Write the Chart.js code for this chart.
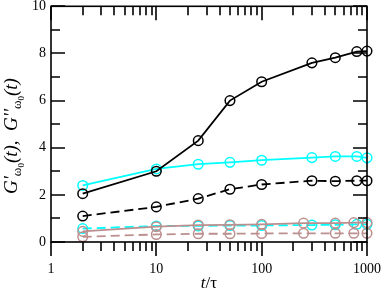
<!DOCTYPE html>
<html>
<head>
<meta charset="utf-8">
<script src="https://cdn.jsdelivr.net/npm/chart.js@4"></script>
<style>
  html, body { margin: 0; padding: 0; background: #fff; }
  #wrap { width: 382px; height: 292px; }
</style>
</head>
<body>
<div id="wrap"><canvas id="chart" width="382" height="292"></canvas></div>
<script>
// t/tau values of each series
const tMain = [2, 10, 25, 50, 100, 300, 500, 800, 1000];
const tLow = [2, 10, 25, 50, 100, 250, 500, 750, 1000];

// values
const blackSolid = [2.05, 3.0, 4.3, 6.0, 6.8, 7.6, 7.82, 8.08, 8.1];
const cyanSolid = [2.4, 3.1, 3.3, 3.38, 3.47, 3.58, 3.63, 3.63, 3.57];
const blackDashed = [1.1, 1.49, 1.84, 2.24, 2.44, 2.6, 2.58, 2.6, 2.6];
const cyanDashed = [0.57, 0.68, 0.68, 0.7, 0.7, 0.72, 0.73, 0.75, 0.75];
const pinkSolid = [0.45, 0.65, 0.72, 0.73, 0.75, 0.8, 0.8, 0.82, 0.82];
const pinkDashed = [0.22, 0.32, 0.35, 0.35, 0.36, 0.37, 0.37, 0.37, 0.37];

const xMajor = [1, 10, 100, 1000];
const yMajor = [0, 2, 4, 6, 8, 10];

const SERIF = '"Liberation Serif", "DejaVu Serif", serif';
const PINK = "#bc8f8f";
const CYAN = "#00ffff";

function series(xs, ys, color, dashed) {
  return {
    data: xs.map((x, i) => ({ x: x, y: ys[i] })),
    borderColor: color,
    borderWidth: 1.8,
    borderDash: dashed ? [9, 5] : [],
    pointStyle: "circle",
    pointRadius: 4.8,
    pointBorderWidth: 1.5,
    pointBorderColor: color,
    pointBackgroundColor: "rgba(0,0,0,0)",
    tension: 0,
    clip: false,
  };
}

// frame, inward/outward ticks and axis titles
const framePlugin = {
  id: "frame",
  afterDraw(chart) {
    const ctx = chart.ctx;
    const a = chart.chartArea;
    const xs = chart.scales.x;
    const ys = chart.scales.y;
    ctx.save();
    ctx.strokeStyle = "#000";
    ctx.lineWidth = 1.6;
    ctx.strokeRect(a.left, a.top, a.right - a.left, a.bottom - a.top);

    ctx.beginPath();
    // x ticks: bottom outward, top inward
    for (let d = 1; d <= 1000; d *= 10) {
      for (let m = 1; m < 10; m++) {
        const v = d * m;
        if (v > 1000) break;
        const len = m === 1 ? 14 : 9;
        const px = Math.round(xs.getPixelForValue(v));
        ctx.moveTo(px, a.bottom);
        ctx.lineTo(px, a.bottom + len);
        ctx.moveTo(px, a.top);
        ctx.lineTo(px, a.top + len);
      }
    }
    // y ticks: inward on both sides
    for (let v = 0; v <= 10; v++) {
      const len = v % 2 === 0 ? 14 : 9;
      const py = Math.round(ys.getPixelForValue(v));
      ctx.moveTo(a.left, py);
      ctx.lineTo(a.left + len, py);
      ctx.moveTo(a.right, py);
      ctx.lineTo(a.right - len, py);
    }
    ctx.stroke();

    // x title
    ctx.fillStyle = "#000";
    ctx.textBaseline = "alphabetic";
    const cx = (a.left + a.right) / 2;
    ctx.font = "italic 17px " + SERIF;
    const wt = ctx.measureText("t").width;
    ctx.font = "17px " + SERIF;
    const wr = ctx.measureText("/\u03c4").width;
    let x0 = cx - (wt + wr) / 2;
    ctx.font = "italic 17px " + SERIF;
    ctx.fillText("t", x0, 288);
    ctx.font = "17px " + SERIF;
    ctx.fillText("/\u03c4", x0 + wt, 288);

    // y title
    const big = "italic 19px " + SERIF;
    const sub = "13px " + SERIF;
    const sub2 = "9px " + SERIF;
    const runs = [
      [big, "G'", 0], [sub, "\u03c9", 4], [sub2, "0", 7], [big, "(t),", 0],
      [big, "  ", 0],
      [big, "G''", 0], [sub, "\u03c9", 4], [sub2, "0", 7], [big, "(t)", 0],
    ];
    let total = 0;
    runs.forEach((r) => { ctx.font = r[0]; r.push(ctx.measureText(r[1]).width); total += r[3]; });
    ctx.translate(17, 136);
    ctx.rotate(-Math.PI / 2);
    let pos = -total / 2;
    runs.forEach((r) => {
      ctx.font = r[0];
      ctx.fillText(r[1], pos, r[2]);
      pos += r[3];
    });
    ctx.restore();
  },
};

new Chart(document.getElementById("chart"), {
  type: "line",
  data: {
    datasets: [
      series(tMain, blackSolid, "#000", false),
      series(tMain, cyanSolid, CYAN, false),
      series(tMain, blackDashed, "#000", true),
      series(tLow, pinkSolid, PINK, false),
      series(tLow, pinkDashed, PINK, true),
      series(tMain, cyanDashed, CYAN, true),
    ],
  },
  options: {
    responsive: false,
    animation: false,
    events: [],
    layout: { padding: { top: 6, right: 15, left: 0, bottom: 0 } },
    plugins: { legend: { display: false }, tooltip: { enabled: false } },
    scales: {
      x: {
        type: "logarithmic",
        min: 1,
        max: 1000,
        afterBuildTicks: (s) => { s.ticks = xMajor.map((v) => ({ value: v, major: true })); },
        afterFit: (s) => { s.height = 50; s.paddingLeft = 0; s.paddingRight = 0; },
        grid: { display: false, drawTicks: false },
        border: { display: false },
        ticks: {
          color: "#000",
          font: { family: SERIF, size: 14 },
          padding: 19,
          maxRotation: 0,
          autoSkip: false,
          callback: (v) => String(v),
        },
      },
      y: {
        min: 0,
        max: 10,
        afterBuildTicks: (s) => { s.ticks = yMajor.map((v) => ({ value: v })); },
        afterFit: (s) => { s.width = 51; s.paddingTop = 0; s.paddingBottom = 0; },
        grid: { display: false, drawTicks: false },
        border: { display: false },
        ticks: {
          color: "#000",
          font: { family: SERIF, size: 14 },
          padding: 5,
          callback: (v) => String(v),
        },
      },
    },
  },
  plugins: [framePlugin],
});
</script>
</body>
</html>
